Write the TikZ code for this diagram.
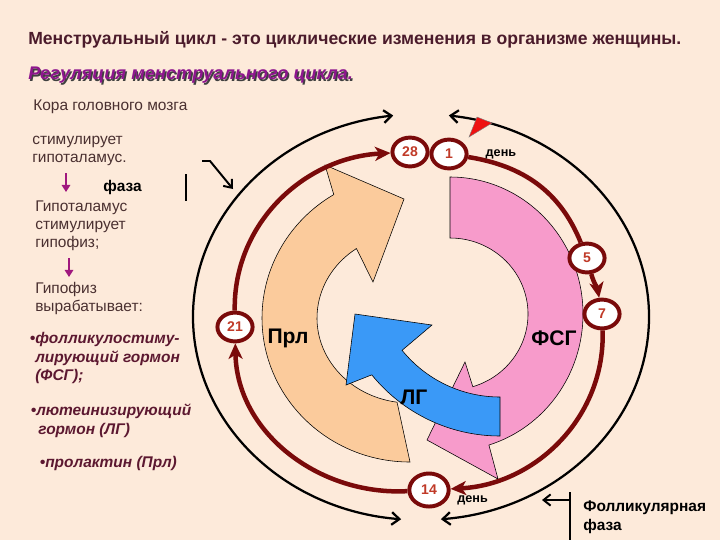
\documentclass[tikz,border=0pt]{standalone}
\usepackage{fontspec}
\setmainfont{Liberation Sans}
\usetikzlibrary{arrows.meta, positioning, shapes.geometric, calc}

\definecolor{bgcol}{HTML}{FDEADA}
\definecolor{cyclered}{HTML}{7A0A0A}
\definecolor{daynum}{HTML}{C03A28}
\definecolor{titlecol}{HTML}{4B1B2B}
\definecolor{subcol}{HTML}{8E168E}
\definecolor{leftcol}{HTML}{4A3030}
\definecolor{hormcol}{HTML}{5C1830}
\definecolor{magarr}{HTML}{A0187E}
\definecolor{prlcol}{HTML}{FBCB9C}
\definecolor{fsgcol}{HTML}{F79BCB}
\definecolor{lgcol}{HTML}{3A99F7}
\definecolor{markred}{HTML}{EE1111}

\newcommand{\shadowtxt}[1]{\makebox[0pt][l]{\raisebox{-1pt}{\hspace{1pt}\textcolor{black!75}{#1}}}#1}

\tikzstyle{day} = [ellipse, draw=cyclered, line width=2.8pt, fill=white, minimum width=25pt, minimum height=20.5pt, inner sep=0pt, text=daynum, font=\fontsize{10}{12}\selectfont\bfseries]
\tikzstyle{cycleline} = [draw=cyclered, line width=3.2pt, -{Stealth[length=11pt,width=10pt,inset=3pt]}]

\begin{document}
\begin{tikzpicture}[x=0.025cm, y=0.025cm,
    every node/.style={inner sep=0pt},
    lefttext/.style={anchor=west, align=left, text=leftcol, font=\fontsize{11}{12.8}\selectfont},
    hormone/.style={anchor=west, align=left, text=hormcol, font=\fontsize{11}{13.5}\selectfont\bfseries\itshape},
    bandlabel/.style={font=\fontsize{15}{18}\selectfont\bfseries},
    band/.style={draw=black, line width=0.4pt},
    phasearc/.style={line width=1.6pt, {Straight Barb[length=5.5pt,width=9pt]}-{Straight Barb[length=5.5pt,width=9pt]}},
    pointer/.style={line width=1.4pt, -{Straight Barb[length=5pt,width=8pt]}},
    magarrow/.style={magarr, line width=1.3pt, -{Triangle[length=5pt,width=6pt]}},
    dayword/.style={anchor=west, font=\fontsize{9}{11}\selectfont\bfseries}
  ]
    \useasboundingbox (0,0) rectangle (720,-540);
    \fill[bgcol] (0,0) rectangle (720,-540);

    % Heading
    \node[anchor=west, text=titlecol, font=\fontsize{12.5}{15}\selectfont\bfseries] (title) at (28,-40)
      {Менструальный цикл - это циклические изменения в организме женщины.};
    \node[anchor=west, text=subcol, font=\fontsize{13}{15}\selectfont\bfseries\itshape] (subtitle) at (28,-76)
      {\shadowtxt{Регуляция менструального цикла.}};

    % Hormone bands
    \begin{scope}[shift={(410,-318)}]
      \filldraw[band, fill=prlcol] (-90:148 and 144)
        arc[start angle=-90, end angle=-239, x radius=148, y radius=144]
        -- (-85,153) -- (-6,119) -- (-37,36) -- (-234.8:93 and 85)
        arc[start angle=-234.8, end angle=-98, x radius=93, y radius=85] -- cycle;
    \end{scope}
    \begin{scope}[shift={(450,-314)}]
      \filldraw[band, fill=fsgcol] (90:133 and 137)
        arc[start angle=90, end angle=-73, x radius=133, y radius=137]
        -- (48,-165) -- (-23,-126) -- (15,-48) -- (-73:78 and 76)
        arc[start angle=-73, end angle=90, x radius=78, y radius=76] -- cycle;
    \end{scope}
    \begin{scope}[shift={(500,-271)}]
      \filldraw[band, fill=lgcol] (-90:126) -- (-90:165)
        arc[start angle=-90, end angle=-141, radius=165]
        -- (-154,-114) -- (-145,-43) -- (-68,-54) -- (-141:126)
        arc[start angle=-141, end angle=-90, radius=126] -- cycle;
    \end{scope}
    \node[bandlabel] (prlLabel) at (288,-338) {Прл};
    \node[bandlabel] (fsgLabel) at (554,-338) {ФСГ};
    \node[bandlabel] (lgLabel) at (414,-397) {ЛГ};

    % Phase arcs and their pointers
    \coordinate (ph) at (421,-317);
    \coordinate (lutTop) at ($(ph)+(97:228 and 203)$);
    \coordinate (folTop) at ($(ph)+(83:228 and 203)$);
    \draw[phasearc] (lutTop) arc[start angle=97, end angle=265, x radius=228, y radius=203];
    \draw[phasearc] (folTop) arc[start angle=83, end angle=-85, x radius=228, y radius=203];
    \coordinate (lutBarA) at (186,-174);
    \coordinate (lutBarB) at (186,-201);
    \coordinate (lutFrom) at (202,-161);
    \coordinate (lutTip) at (233,-189);
    \draw[line width=1.4pt] (lutBarA) -- (lutBarB);
    \draw[pointer] (lutFrom) -- ++(8,0) -- (lutTip);
    \coordinate (folBarA) at (570,-492);
    \coordinate (folBarB) at (570,-540);
    \coordinate (folFrom) at (570,-500);
    \coordinate (folTip) at (542,-500);
    \draw[line width=1.4pt] (folBarA) -- (folBarB);
    \draw[pointer] (folFrom) -- (folTip);

    % Cycle days
    \node[day] (d28) at (410,-152) {28};
    \node[day] (d1) at (449,-154) {1};
    \node[day] (d5) at (587,-258) {5};
    \node[day] (d7) at (602,-314) {7};
    \node[day, minimum width=28pt, minimum height=23.5pt] (d14) at (429,-490) {14};
    \node[day] (d21) at (235,-327) {21};
    \draw[cycleline, -] (d1) to[out=-9, in=112] (d5);
    \draw[cycleline] (d5) to[out=-75, in=100] (d7);
    \draw[cycleline] (d7) to[out=-88, in=3] (d14);
    \draw[cycleline] (d14) to[out=183, in=-89] (d21);
    \draw[cycleline] (d21) to[out=91, in=183] (d28);
    \filldraw[fill=markred, draw=black!50, line width=0.3pt] (469,-137) -- (477,-117) -- (492,-123) -- cycle;
    \node[dayword, right=12pt of d1] (dayA) {день};
    \node[dayword] (dayB) at (457,-500) {день};
    \node[anchor=west, align=left, font=\fontsize{11}{13.5}\selectfont\bfseries] (folPhase) at (583,-517)
      {Фолликулярная\\фаза};

    % Regulation chain
    \node[lefttext] (cortex) at (33,-107) {Кора головного мозга};
    \node[lefttext] (stimA) at (32,-151) {стимулирует\\гипоталамус.};
    \node[anchor=west, font=\fontsize{11}{13}\selectfont\bfseries] (phaseL) at (103,-187) {фаза};
    \node[lefttext] (hypoth) at (35,-226) {Гипоталамус\\стимулирует\\гипофиз;};
    \node[lefttext] (hypoph) at (35,-298) {Гипофиз\\вырабатывает:};
    \coordinate (arrAtop) at (66,-173);
    \coordinate (arrAbot) at (66,-192);
    \coordinate (arrBtop) at (69,-258);
    \coordinate (arrBbot) at (69,-277);
    \draw[magarrow] (arrAtop) -- (arrAbot);
    \draw[magarrow] (arrBtop) -- (arrBbot);
    \node[hormone] (fsh) at (35,-358) {\llap{\textbullet}фолликулостиму-\\лирующий гормон\\(ФСГ);};
    \node[hormone] (lh) at (36,-421) {\llap{\textbullet}лютеинизирующий\\\hspace{1.5pt}гормон (ЛГ)};
    \node[hormone] (prl) at (45,-463) {\llap{\textbullet}пролактин (Прл)};
\end{tikzpicture}
\end{document}
